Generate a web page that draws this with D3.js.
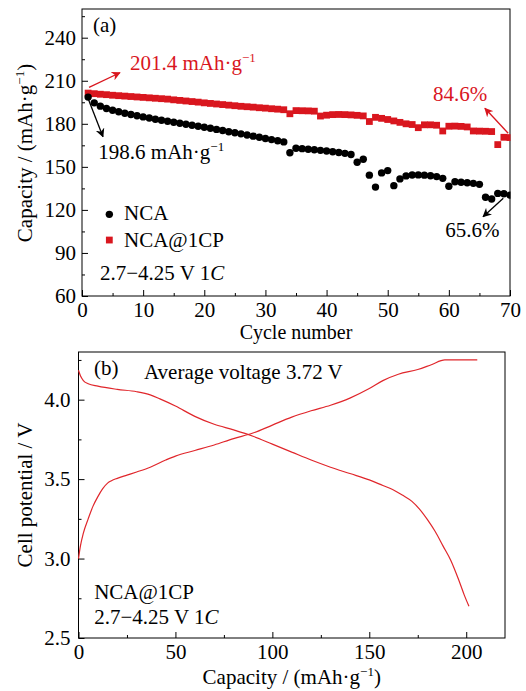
<!DOCTYPE html>
<html>
<head>
<meta charset="utf-8">
<script src="https://cdn.jsdelivr.net/npm/d3@7"></script>
<style>
  body { margin: 0; background: #fff; }
  text { font-family: "Liberation Serif", "Times New Roman", serif; }
</style>
</head>
<body>
<svg id="chart" width="526" height="691"></svg>
<script>
// (a) cycling data, cycles 1..70
const cycles = d3.range(1, 71);
const nca = [198.6, 194.6, 192.3, 190.7, 189.4, 188.4, 187.4, 186.5, 185.6, 184.8,
  184.0, 183.2, 182.5, 181.8, 181.1, 180.4, 179.7, 179.0, 178.3, 177.6,
  176.9, 176.1, 175.3, 174.5, 173.8, 173.0, 172.2, 171.4, 170.6, 169.8,
  169.0, 168.2, 167.4, 159.8, 163.0, 162.7, 162.3, 161.9, 161.5, 161.0,
  160.5, 160.0, 159.4, 158.6, 153.2, 155.3, 144.2, 135.9, 145.8, 147.4,
  136.9, 141.6, 143.7, 144.3, 144.4, 144.2, 143.8, 143.2, 142.0, 136.5,
  139.6, 139.3, 138.9, 138.5, 137.8, 128.8, 127.6, 131.5, 131.3, 130.3];
const ncaCP = [201.4, 201.0, 200.6, 200.3, 199.9, 199.6, 199.3, 199.0, 198.7, 198.4,
  198.1, 197.8, 197.5, 197.2, 196.7, 196.3, 195.9, 195.5, 195.1, 194.6,
  194.2, 193.8, 193.4, 193.0, 192.6, 192.2, 191.9, 191.6, 191.2, 190.9,
  190.5, 190.2, 189.8, 187.0, 189.2, 189.1, 189.0, 188.8, 185.4, 186.0,
  186.4, 186.5, 186.4, 186.2, 185.9, 185.5, 181.6, 184.5, 183.8, 183.0,
  182.0, 181.0, 180.0, 179.5, 177.3, 179.3, 179.3, 179.0, 175.0, 178.3,
  178.4, 178.2, 177.8, 175.0, 174.9, 174.8, 174.6, 165.5, 170.6, 170.4];

// (b) charge / discharge profile of NCA@1CP
const chargeCap = [0, 1, 2.5, 5, 7.5, 10, 12.5, 15, 17, 20, 25, 30, 37, 45, 50, 60, 70, 80, 90,
  100, 110, 120, 130, 140, 150, 157, 165, 175, 182, 189, 205.7];
const chargeV = [3.0, 3.08, 3.16, 3.25, 3.33, 3.39, 3.44, 3.475, 3.49, 3.505, 3.525, 3.545, 3.575,
  3.62, 3.645, 3.68, 3.715, 3.755, 3.79, 3.84, 3.89, 3.93, 3.965, 4.01, 4.07, 4.12, 4.16, 4.19,
  4.22, 4.25, 4.25];
const dischargeCap = [0, 1, 2.5, 5, 10, 20, 30, 37, 42, 50, 60, 70, 80, 90, 100, 110, 120, 130,
  140, 150, 157, 162, 167, 172, 176, 180, 184, 188, 192, 196, 199, 201.4];
const dischargeV = [4.185, 4.15, 4.12, 4.10, 4.085, 4.065, 4.05, 4.03, 4.005, 3.96, 3.895, 3.845,
  3.81, 3.77, 3.72, 3.67, 3.62, 3.575, 3.535, 3.495, 3.46, 3.435, 3.40, 3.36, 3.31, 3.245, 3.17,
  3.08, 2.99, 2.87, 2.77, 2.70];

// tick labels
const cycleTicks = [0, 10, 20, 30, 40, 50, 60, 70];
const capTicks = [60, 90, 120, 150, 180, 210, 240];
const specCapTicks = [0, 50, 100, 150, 200];
const voltTicks = [2.5, 3.0, 3.5, 4.0];

const red = "#d9161e";
const lineRed = "#e0262b";
const fs = 21;

const svg = d3.select("#chart");

const defs = svg.append("defs");
[["arrRed", red], ["arrBlack", "#000"]].forEach(([id, c]) => {
  defs.append("marker")
    .attr("id", id)
    .attr("viewBox", "0 0 10 10")
    .attr("refX", 9).attr("refY", 5)
    .attr("markerWidth", 9).attr("markerHeight", 9)
    .attr("markerUnits", "userSpaceOnUse")
    .attr("orient", "auto")
    .append("path")
    .attr("d", "M0,0 L10,5 L0,10 L3,5 Z")
    .attr("fill", c);
});

function drawAxes(x, y, xMajor, xMinor, yMajor, yMinor, yFmt, xPad, yPad) {
  const [x0, x1] = x.range();
  const [y0, y1] = y.range();
  const style = g => {
    g.select(".domain").remove();
    g.attr("font-size", fs).attr("font-family", null);
    g.selectAll("text").attr("fill", "#000");
    g.selectAll("line").attr("stroke", "#000");
  };
  svg.append("g").attr("transform", `translate(0,${y0})`)
    .call(d3.axisBottom(x).tickValues(xMajor).tickSize(-6).tickPadding(xPad))
    .call(style);
  svg.append("g").attr("transform", `translate(0,${y0})`)
    .call(d3.axisBottom(x).tickValues(xMinor).tickSize(-3).tickFormat(""))
    .call(style);
  svg.append("g").attr("transform", `translate(${x0},0)`)
    .call(d3.axisLeft(y).tickValues(yMajor).tickSize(-6).tickPadding(yPad).tickFormat(yFmt))
    .call(style);
  svg.append("g").attr("transform", `translate(${x0},0)`)
    .call(d3.axisLeft(y).tickValues(yMinor).tickSize(-3).tickFormat(""))
    .call(style);
  svg.append("rect")
    .attr("x", x0).attr("y", y1)
    .attr("width", x1 - x0).attr("height", y0 - y1)
    .attr("fill", "none").attr("stroke", "#000").attr("stroke-width", 1);
}

// superscript helper: "mAh·g" + "−1"
function unitText(sel, before, after) {
  sel.append("tspan").text(before + "mAh·g");
  sel.append("tspan").attr("font-size", 13).attr("dy", -8).text("−1");
  if (after) sel.append("tspan").attr("dy", 8).text(after);
}

// ---------- panel (a) ----------
const xa = d3.scaleLinear().domain([0, 70]).range([82, 510]);
const ya = d3.scaleLinear().domain([60, 260]).range([296, 9]);

drawAxes(xa, ya, cycleTicks, d3.range(5, 70, 10), capTicks, d3.range(75, 260, 30), d3.format("d"), 6, 6);

defs.append("clipPath").attr("id", "clipA").append("rect")
  .attr("x", xa(0)).attr("y", ya(260)).attr("width", xa(70) - xa(0) + 0.5).attr("height", ya(60) - ya(260));

const plotA = svg.append("g").attr("clip-path", "url(#clipA)");
plotA.append("g").selectAll("rect")
  .data(cycles)
  .join("rect")
  .attr("x", (c) => xa(c) - 3.4)
  .attr("y", (c, i) => ya(ncaCP[i]) - 3.4)
  .attr("width", 6.8).attr("height", 6.8)
  .attr("fill", red);
plotA.append("g").selectAll("circle")
  .data(cycles)
  .join("circle")
  .attr("cx", (c) => xa(c))
  .attr("cy", (c, i) => ya(nca[i]))
  .attr("r", 3.7)
  .attr("fill", "#000");

// annotations (a)
const txt = (x, y, color) => svg.append("text").attr("x", x).attr("y", y)
  .attr("font-size", fs).attr("fill", color || "#000");

txt(xa(1.8), ya(244)).text("(a)");
unitText(txt(xa(7.85), ya(217.5), red), "201.4 ");
unitText(txt(xa(2.67), ya(155.3)), "198.6 ");
txt(xa(57.4), ya(196.1), red).text("84.6%");
txt(xa(59.4), ya(101.3)).text("65.6%");

const arrowsA = [
  [1.15, 205.4, 6.2, 215.6, red, "arrRed"],
  [0.98, 197.8, 3.43, 171.0, "#000", "arrBlack"],
  [69.7, 173.4, 65.9, 190.8, red, "arrRed"],
  [68.9, 128.1, 65.6, 115.3, "#000", "arrBlack"]
];
arrowsA.forEach(([c0, v0, c1, v1, col, m]) => {
  svg.append("line")
    .attr("x1", xa(c0)).attr("y1", ya(v0))
    .attr("x2", xa(c1)).attr("y2", ya(v1))
    .attr("stroke", col).attr("stroke-width", 1.3)
    .attr("marker-end", `url(#${m})`);
});

// legend
svg.append("circle").attr("cx", xa(4.47)).attr("cy", ya(116.9)).attr("r", 3.7).attr("fill", "#000");
txt(xa(6.87), ya(113)).text("NCA");
svg.append("rect").attr("x", xa(4.47) - 3.4).attr("y", ya(99) - 3.4)
  .attr("width", 6.8).attr("height", 6.8).attr("fill", red);
txt(xa(6.87), ya(94)).text("NCA@1CP");
const condA = txt(xa(2.94), ya(71.1));
condA.append("tspan").text("2.7−4.25 V 1");
condA.append("tspan").attr("font-style", "italic").text("C");

// axis titles (a)
svg.append("text").attr("x", (xa.range()[0] + xa.range()[1]) / 2).attr("y", 339)
  .attr("text-anchor", "middle").attr("font-size", 20).text("Cycle number");
const ttlA = svg.append("text")
  .attr("transform", "translate(32,153) rotate(-90)")
  .attr("text-anchor", "middle").attr("font-size", fs);
unitText(ttlA, "Capacity / (", ")");

// ---------- panel (b) ----------
const xb = d3.scaleLinear().domain([0, 220]).range([78.5, 505]);
const yb = d3.scaleLinear().domain([2.5, 4.3]).range([638, 352]);

drawAxes(xb, yb, specCapTicks, [25, 75, 125, 175], voltTicks, [2.75, 3.25, 3.75, 4.25], d3.format(".1f"), 6, 8);

const line = d3.line().curve(d3.curveMonotoneX);
svg.append("path")
  .attr("d", line(chargeCap.map((c, i) => [xb(c), yb(chargeV[i])])))
  .attr("fill", "none").attr("stroke", lineRed).attr("stroke-width", 1.2);
svg.append("path")
  .attr("d", line(dischargeCap.map((c, i) => [xb(c), yb(dischargeV[i])])))
  .attr("fill", "none").attr("stroke", lineRed).attr("stroke-width", 1.2);

txt(xb(8), yb(4.155)).text("(b)");
txt(xb(33.8), yb(4.13)).text("Average voltage 3.72 V");
txt(xb(8.1), yb(2.745)).text("NCA@1CP");
const condB = txt(xb(8.1), yb(2.588));
condB.append("tspan").text("2.7−4.25 V 1");
condB.append("tspan").attr("font-style", "italic").text("C");

const ttlBx = svg.append("text").attr("x", (xb.range()[0] + xb.range()[1]) / 2).attr("y", 684)
  .attr("text-anchor", "middle").attr("font-size", fs);
unitText(ttlBx, "Capacity / (", ")");
svg.append("text")
  .attr("transform", "translate(32,495) rotate(-90)")
  .attr("text-anchor", "middle").attr("font-size", fs).text("Cell potential / V");
</script>
</body>
</html>
